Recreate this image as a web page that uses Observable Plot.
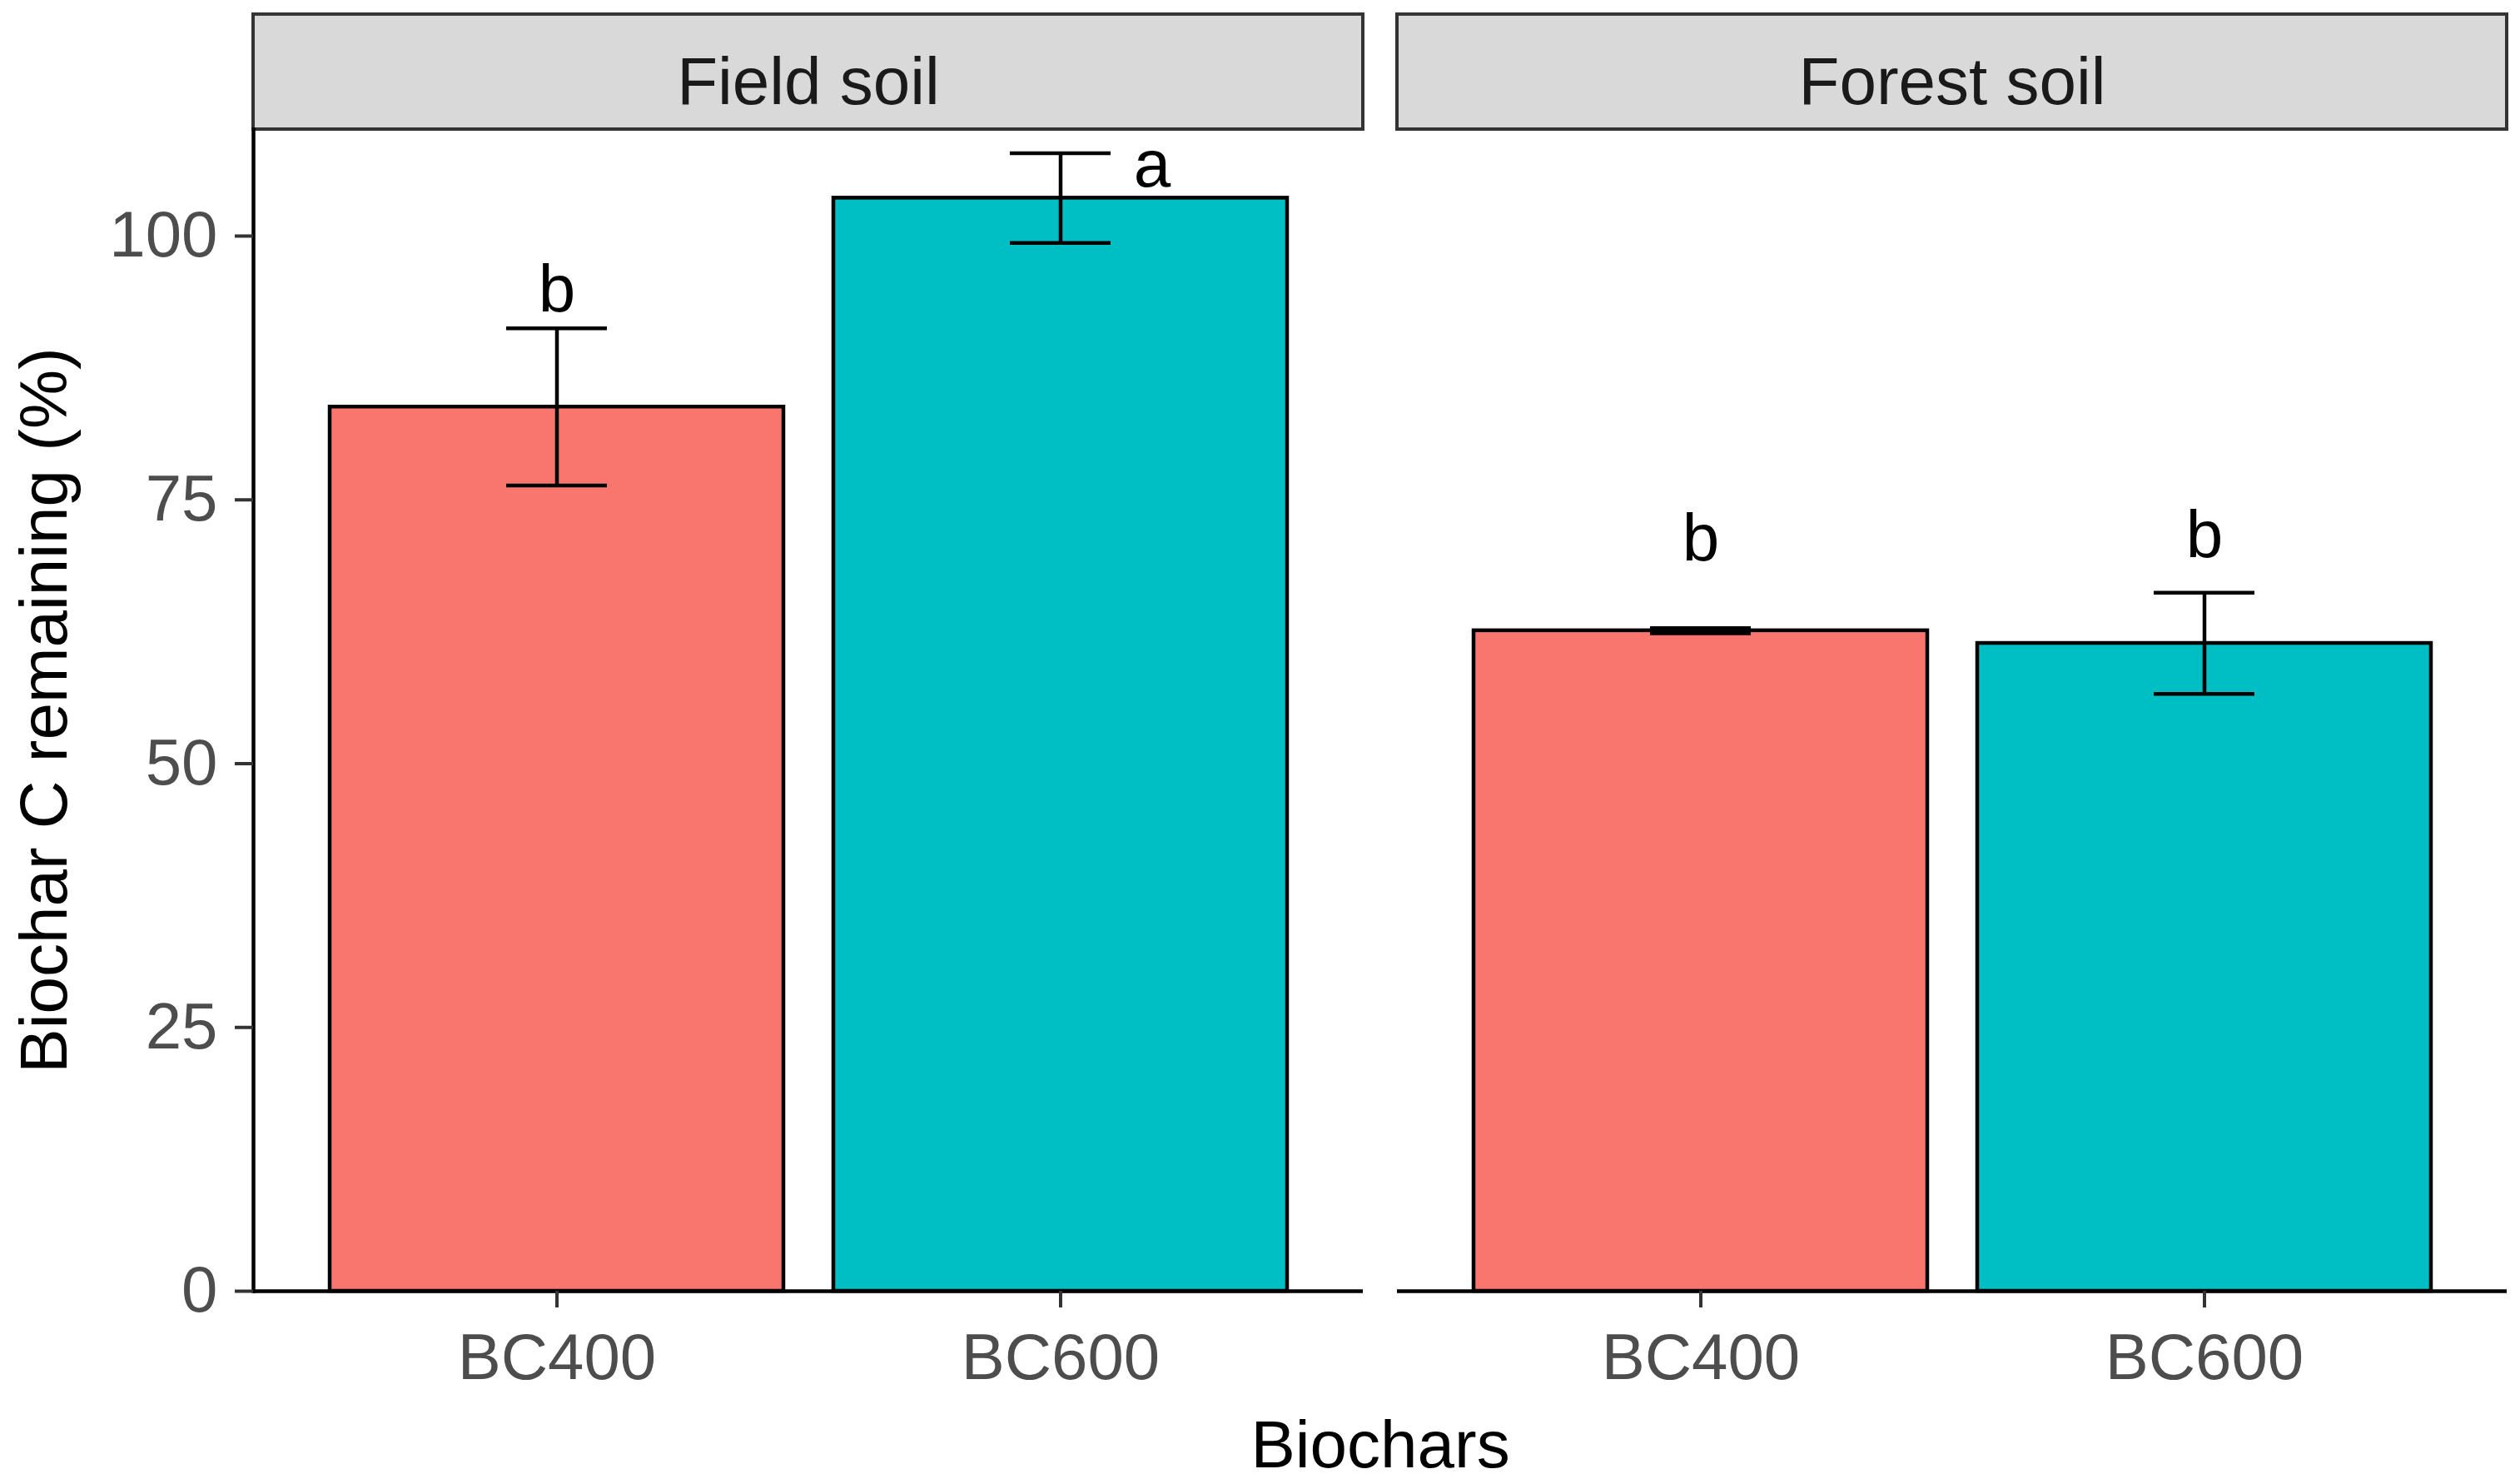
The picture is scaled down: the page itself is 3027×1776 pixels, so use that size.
<!DOCTYPE html>
<html><head><meta charset="utf-8">
<script src="https://cdn.jsdelivr.net/npm/d3@7"></script>
<script src="https://cdn.jsdelivr.net/npm/@observablehq/plot@0.6"></script>
<style>
html,body{margin:0;padding:0;background:#fff;}
#chart [aria-label="y-axis label"], #chart [aria-label="x-axis label"] { fill:#000; font-size:80px; }
</style></head><body><div id="chart"></div>
<script>
// Data
const soilLevels = ["Field soil", "Forest soil"];
const biocharLevels = ["BC400", "BC600"];
const soils = ["Field soil", "Field soil", "Forest soil", "Forest soil"];
const biochars = ["BC400", "BC600", "BC400", "BC600"];
const means = [83.8, 103.6, 62.6, 61.4];
const ses = [7.45, 4.25, 0.25, 4.8];
const letters = ["b", "a", "b", "b"];
const letterY = [94.9, 106.7, 71.3, 71.6];
const yTicks = [0, 25, 50, 75, 100];
const colors = ["#F8766D", "#00BFC4"];

const yMax = 110.1;     // panel top
const stripTop = 121.0; // strip top (in y units, above the panel)

const rows = soils.map((s, i) => ({
  soil: s, biochar: biochars[i], mean: means[i],
  lo: means[i] - ses[i], hi: means[i] + ses[i],
  letter: letters[i], ly: letterY[i]
}));

const plot = Plot.plot({
  width: 3027, height: 1776,
  marginLeft: 304, marginRight: 15, marginTop: 155, marginBottom: 226,
  style: {fontFamily: "'Liberation Sans', Arial, sans-serif", background: "#fff", overflow: "visible"},
  fx: {domain: soilLevels, paddingInner: 0.0298, paddingOuter: 0, axis: null, label: null},
  x: {domain: biocharLevels, paddingInner: 0.1, paddingOuter: 0.15, label: null},
  y: {domain: [0, yMax], label: null},
  color: {domain: biocharLevels, range: colors},
  marks: [
    // strips
    Plot.barY(soilLevels, {fx: d => d, y1: yMax, y2: stripTop, fill: "#d9d9d9", stroke: "#333333", strokeWidth: 4}),
    Plot.text(soilLevels, {fx: d => d, text: d => d, frameAnchor: "top", lineAnchor: "middle", dy: -56, fontSize: 80, fill: "#1a1a1a"}),
    // bars
    Plot.barY(rows, {fx: "soil", x: "biochar", y: "mean", fill: "biochar", stroke: "black", strokeWidth: 4.5}),
    // error bars
    Plot.ruleX(rows, {fx: "soil", x: "biochar", y1: "lo", y2: "hi", stroke: "black", strokeWidth: 4.5}),
    Plot.tickY(rows, {fx: "soil", x: "biochar", y: "lo", stroke: "black", strokeWidth: 4.5, insetLeft: 212, insetRight: 212}),
    Plot.tickY(rows, {fx: "soil", x: "biochar", y: "hi", stroke: "black", strokeWidth: 4.5, insetLeft: 212, insetRight: 212}),
    // significance letters
    Plot.text(rows.filter(d => d.letter !== "a"), {fx: "soil", x: "biochar", y: "ly", text: "letter", fontSize: 80, fill: "black"}),
    Plot.text(rows.filter(d => d.letter === "a"), {fx: "soil", x: "biochar", y: "ly", text: "letter", fontSize: 80, fill: "black", dx: 110}),
    // axis lines
    Plot.ruleY([0], {stroke: "black", strokeWidth: 4.5}),
    Plot.frame({anchor: "left", fx: () => "Field soil", stroke: "black", strokeWidth: 4.5}),
    // axes
    Plot.axisY({ticks: yTicks, tickSize: 22, tickPadding: 21, fontSize: 78, fill: "#4d4d4d", stroke: "#333333", strokeWidth: 4,
      label: "Biochar C remaining (%)", labelAnchor: "center", labelOffset: 281, labelArrow: "none"}),
    Plot.axisX({tickSize: 20, tickPadding: 30, fontSize: 78, fill: "#4d4d4d", stroke: "#333333", strokeWidth: 4,
      label: "Biochars", labelAnchor: "center", labelOffset: 211, labelArrow: "none"})
  ]
});
document.getElementById("chart").appendChild(plot);
</script></body></html>
